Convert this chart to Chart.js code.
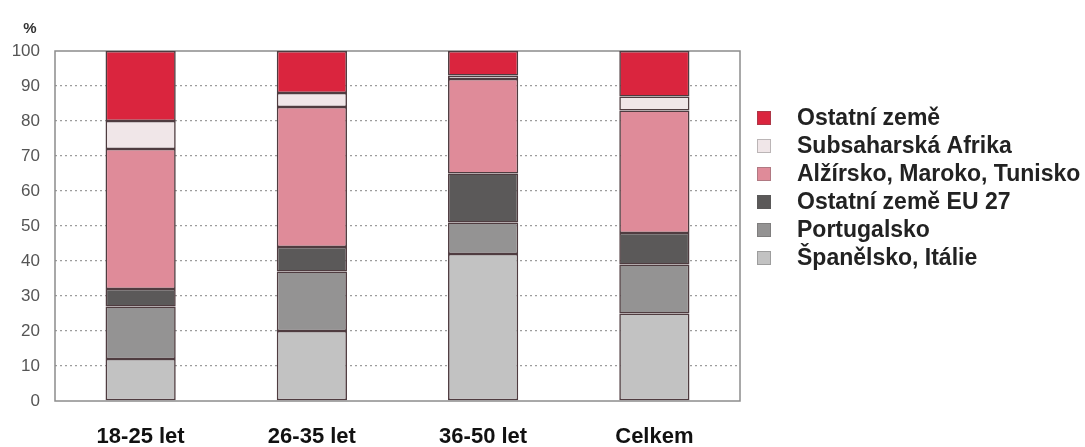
<!DOCTYPE html>
<html>
<head>
<meta charset="utf-8">
<script src="https://cdn.jsdelivr.net/npm/chart.js@4.4.1/dist/chart.umd.min.js"></script>
<style>
  html, body { margin: 0; padding: 0; background: #fff; }
  #wrap { width: 1085px; height: 447px; position: relative; }
</style>
</head>
<body>
<div id="wrap"><canvas id="chart" width="1085" height="447"></canvas></div>
<script>
// kategorie (věkové skupiny)
const categories = ['18-25 let', '26-35 let', '36-50 let', 'Celkem'];

// hodnoty v %, zdola nahoru
const spanelskoItalie = [12, 20, 42, 25];
const portugalsko     = [15, 17, 9, 14];
const ostatniEU27     = [5, 7, 14, 9];
const alzirskoMaroko  = [40, 40, 27, 35];
const subsaharska     = [8, 4, 1, 4];
const ostatniZeme     = [20, 12, 7, 13];

const yTicks = [0, 10, 20, 30, 40, 50, 60, 70, 80, 90, 100];

const FONT = '"Liberation Sans", Arial, sans-serif';
const edge = '#4f3c40';

function ds(label, data, color) {
    return {
        label: label,
        data: data,
        backgroundColor: color,
        borderColor: edge,
        borderWidth: 1.6,
        borderSkipped: false,
        categoryPercentage: 1,
        barPercentage: 0.41
    };
}

const datasets = [
    ds('Španělsko, Itálie', spanelskoItalie, '#c2c2c2'),
    ds('Portugalsko', portugalsko, '#949393'),
    ds('Ostatní země EU 27', ostatniEU27, '#5b5959'),
    ds('Alžírsko, Maroko, Tunisko', alzirskoMaroko, '#df8b99'),
    ds('Subsaharská Afrika', subsaharska, '#f0e6e8'),
    ds('Ostatní země', ostatniZeme, '#da253e')
];

// rámeček grafu + symbol % + legenda vpravo
const framePlugin = {
    id: 'frame',
    beforeDatasetsDraw(chart) {
        const { ctx, chartArea: a } = chart;
        ctx.save();
        ctx.strokeStyle = '#8c8c8c';
        ctx.lineWidth = 1.5;
        ctx.strokeRect(a.left, a.top, a.right - a.left, a.bottom - a.top);
        ctx.restore();
    },
    afterDraw(chart) {
        const { ctx } = chart;
        ctx.save();
        ctx.fillStyle = '#333';
        ctx.font = 'bold 15px ' + FONT;
        ctx.textAlign = 'center';
        ctx.textBaseline = 'middle';
        ctx.fillText('%', 30, 29);

        // legenda: od "Ostatní země" dolů
        ctx.font = 'bold 23px ' + FONT;
        ctx.textAlign = 'left';
        const items = chart.data.datasets.slice().reverse();
        items.forEach((d, i) => {
            const y = 118 + i * 28;
            ctx.fillStyle = d.backgroundColor;
            ctx.fillRect(757, y - 7, 14, 14);
            ctx.strokeStyle = 'rgba(90,90,90,0.35)';
            ctx.lineWidth = 1;
            ctx.strokeRect(757.5, y - 6.5, 13, 13);
            ctx.fillStyle = '#222';
            ctx.fillText(d.label, 797, y + 1);
        });
        ctx.restore();
    }
};

new Chart(document.getElementById('chart').getContext('2d'), {
    type: 'bar',
    data: { labels: categories, datasets: datasets },
    options: {
        responsive: false,
        animation: false,
        layout: { padding: { top: 51, right: 345, bottom: 0, left: 0 } },
        plugins: {
            legend: { display: false },
            tooltip: { enabled: false }
        },
        scales: {
            x: {
                stacked: true,
                grid: { display: false },
                border: { display: false },
                ticks: {
                    padding: 15,
                    color: '#111',
                    font: { family: FONT, size: 22, weight: 'bold' }
                },
                afterFit: s => { s.height = 46; }
            },
            y: {
                stacked: true,
                min: 0,
                max: 100,
                afterBuildTicks: s => { s.ticks = yTicks.map(v => ({ value: v })); },
                grid: {
                    color: ctx => (ctx.tick && (ctx.tick.value === 0 || ctx.tick.value === 100)) ? 'rgba(0,0,0,0)' : '#9c9c9c',
                    lineWidth: 1.3,
                    drawTicks: false
                },
                border: { display: false, dash: [2, 3] },
                ticks: {
                    padding: 15,
                    color: '#555',
                    font: { family: FONT, size: 17 }
                },
                afterFit: s => { s.width = 55; }
            }
        }
    },
    plugins: [framePlugin]
});
</script>
</body>
</html>
